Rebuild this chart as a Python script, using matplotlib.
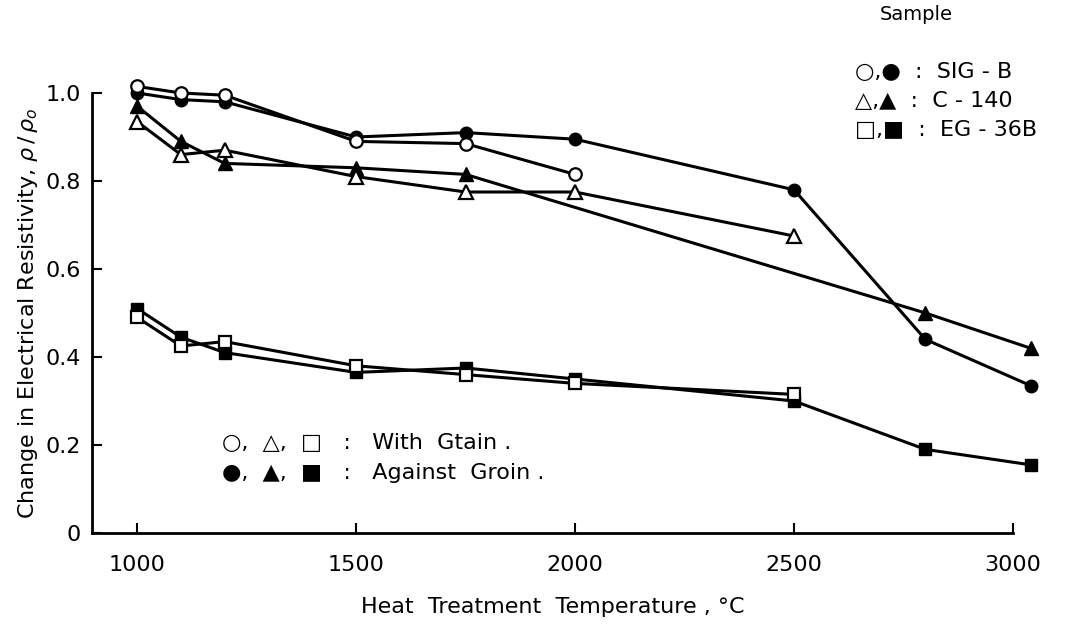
import numpy as np
from matplotlib import pyplot as plt

plt.rcParams.update({'font.size': 15, 'font.family': 'DejaVu Sans'})

# Heat treatment temperatures (deg C)
t_sig = [1000, 1100, 1200, 1500, 1750, 2000, 2500, 2800, 3040]
t_c140 = [1000, 1100, 1200, 1500, 1750, 2800, 3040]
t_with = [1000, 1100, 1200, 1500, 1750, 2000]
t_with_long = [1000, 1100, 1200, 1500, 1750, 2000, 2500]

# SIG-B
sig_with = [1.015, 1.0, 0.995, 0.89, 0.885, 0.815]
sig_against = [1.0, 0.985, 0.98, 0.90, 0.91, 0.895, 0.78, 0.44, 0.335]
# C-140
c140_with = [0.935, 0.86, 0.87, 0.81, 0.775, 0.775, 0.675]
c140_against = [0.97, 0.89, 0.84, 0.83, 0.815, 0.50, 0.42]
# EG-36B
eg_with = [0.49, 0.425, 0.435, 0.38, 0.36, 0.34, 0.315]
eg_against = [0.51, 0.445, 0.41, 0.365, 0.375, 0.35, 0.30, 0.19, 0.155]

fig = plt.figure(figsize=(10.66, 6.31), dpi=100)
ax = fig.add_axes([92/1066, 98/631, (1013-92)/1066, (533-93)/631])

lw = 2.2
ms = 9
# against grain (filled)
ax.plot(t_sig, sig_against, 'k-o', lw=lw, ms=ms, clip_on=False, zorder=3)
ax.plot(t_c140, c140_against, 'k-^', lw=lw, ms=ms + 1, clip_on=False, zorder=3)
ax.plot(t_sig, eg_against, 'k-s', lw=lw, ms=ms - 1, clip_on=False, zorder=3)
# with grain (open)
ax.plot(t_with, sig_with, 'k-o', lw=lw, ms=ms, mfc='white', mew=1.6,
        clip_on=False, zorder=4)
ax.plot(t_with_long, c140_with, 'k-^', lw=lw, ms=ms + 1, mfc='white', mew=1.6,
        clip_on=False, zorder=4)
ax.plot(t_with_long, eg_with, 'k-s', lw=lw, ms=ms - 1, mfc='white', mew=1.6,
        clip_on=False, zorder=4)

ax.set_xlim((897, 3000))
ax.set_ylim((0, 1.0))
ax.set_xticks([1000, 1500, 2000, 2500, 3000])
ax.set_yticks([0, 0.2, 0.4, 0.6, 0.8, 1.0])
ax.set_yticklabels(['0', '0.2', '0.4', '0.6', '0.8', '1.0'])
ax.spines['top'].set_visible(False)
ax.spines['right'].set_visible(False)
ax.spines['left'].set_linewidth(2)
ax.spines['bottom'].set_linewidth(2)
ax.tick_params(direction='in', length=7, width=1.5, labelsize=16)
ax.tick_params(axis='x', pad=16)
ax.tick_params(axis='y', pad=8)

ax.set_xlabel('Heat  Treatment  Temperature , °C', fontsize=16, labelpad=16)
ax.set_ylabel('Change in Electrical Resistivity, $\\rho\\,/\\,\\rho_o$',
              fontsize=16, labelpad=4)

# sample legend (top right)
fig.text(880/1066, 1 - 15/631, 'Sample', fontsize=14, va='center')
fig.text(855/1066, 1 - 72/631, '○,●  :  SIG - B', fontsize=16, va='center')
fig.text(855/1066, 1 - 101/631, '△,▲  :  C - 140', fontsize=16, va='center')
fig.text(855/1066, 1 - 130/631, '□,■  :  EG - 36B', fontsize=16, va='center')

# grain direction notes
fig.text(222/1066, 1 - 443/631, '○,  △,  □   :   With  Gtain .', fontsize=16,
         va='center')
fig.text(222/1066, 1 - 473/631, '●,  ▲,  ■   :   Against  Groin .', fontsize=16,
         va='center')

fig.savefig('out.png', dpi=100)
